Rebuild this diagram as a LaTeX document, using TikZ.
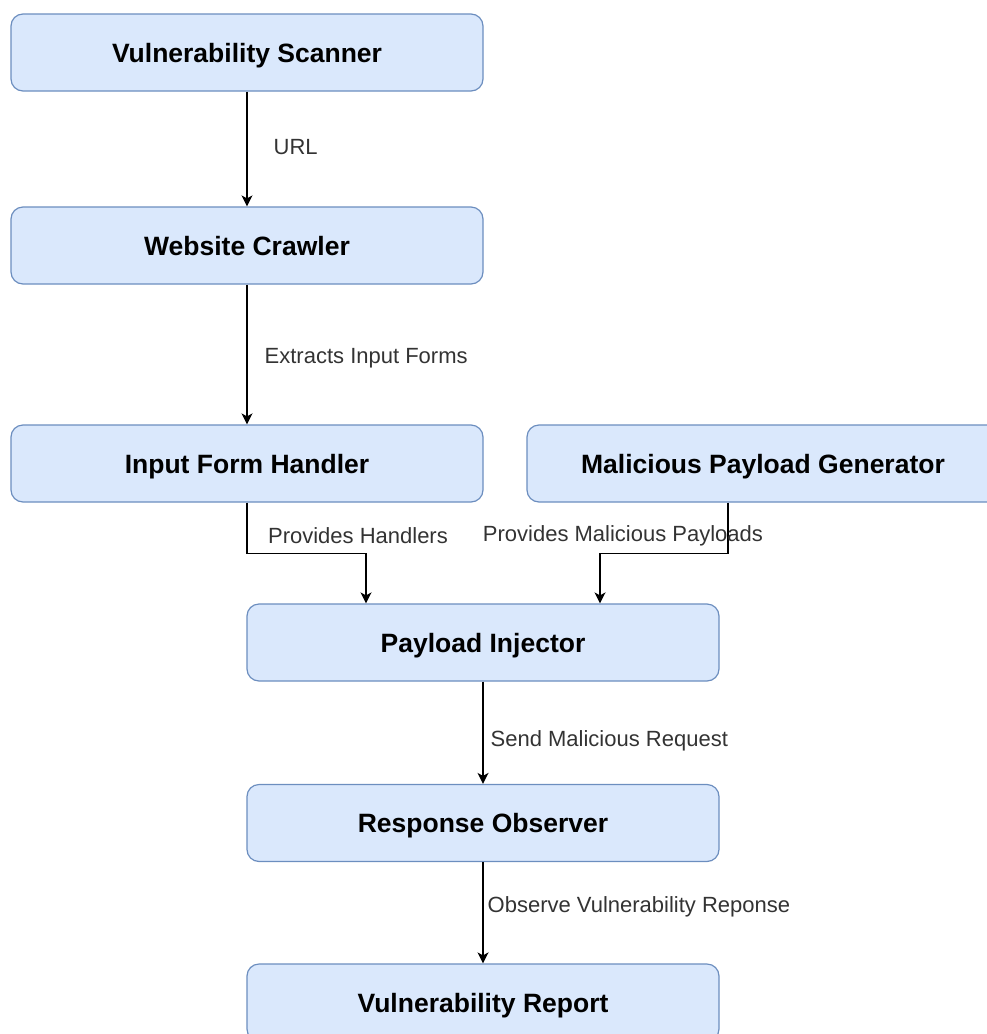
\documentclass[tikz,border=0pt]{standalone}
\usepackage{fontspec}
\setmainfont{Liberation Sans}
\usetikzlibrary{arrows.meta}
\definecolor{boxfill}{HTML}{DAE8FC}
\definecolor{boxline}{HTML}{6C8EBF}
\definecolor{lbltext}{HTML}{333333}
\begin{document}
\begin{tikzpicture}[x=1pt,y=-1pt,
  stage/.style={draw=boxline, fill=boxfill, rounded corners=12pt, line width=1.2pt,
    minimum width=472pt, minimum height=77pt, inner sep=0pt, text depth=0pt,
    font=\fontsize{26.5}{30}\selectfont\bfseries, text=black},
  flow/.style={draw=black, line width=1.4pt, -{Stealth[length=11pt,width=11pt,inset=3pt]}},
  lbl/.style={font=\fontsize{22}{26}\selectfont, text=lbltext, inner sep=0pt}]
\useasboundingbox (0,0) rectangle (987,1034);
\clip (0,0) rectangle (987,1034);

% processing stages
\node[stage] (scan) at (247,52.5)  {Vulnerability Scanner};
\node[stage] (crawl) at (247,245.5) {Website Crawler};
\node[stage] (hand) at (247,463.5) {Input Form Handler};
\node[stage] (gen) at (763,463.5) {Malicious Payload Generator};
\node[stage] (inj) at (483,642.5) {Payload Injector};
\node[stage] (obs) at (483,823)   {Response Observer};
\node[stage] (rep) at (483,1002.5) {Vulnerability Report};

% connectors
\draw[flow] (scan.south) -- node[lbl, anchor=west, xshift=26pt, yshift=2pt] {URL} (crawl.north);
\draw[flow] (crawl.south) -- node[lbl, anchor=west, xshift=17pt, yshift=-4pt] {Extracts Input Forms} (hand.north);
\draw[flow] (hand.south) -- ++(0,51) -| ([xshift=-117pt]inj.north);
\draw[flow] ([xshift=-35pt]gen.south) -- ++(0,51) -| ([xshift=117pt]inj.north);
\draw[flow] (inj.south) -- node[lbl, anchor=west, xshift=7pt, yshift=-8pt] {Send Malicious Request} (obs.north);
\draw[flow] (obs.south) -- node[lbl, anchor=west, xshift=4pt, yshift=6pt] {Observe Vulnerability Reponse} (rep.north);

% labels on the merging connectors
\node[lbl] (lh) at (358,536) {Provides Handlers};
\node[lbl] (lg) at (623,536) {Provides Malicious Payloads};
\end{tikzpicture}
\end{document}
